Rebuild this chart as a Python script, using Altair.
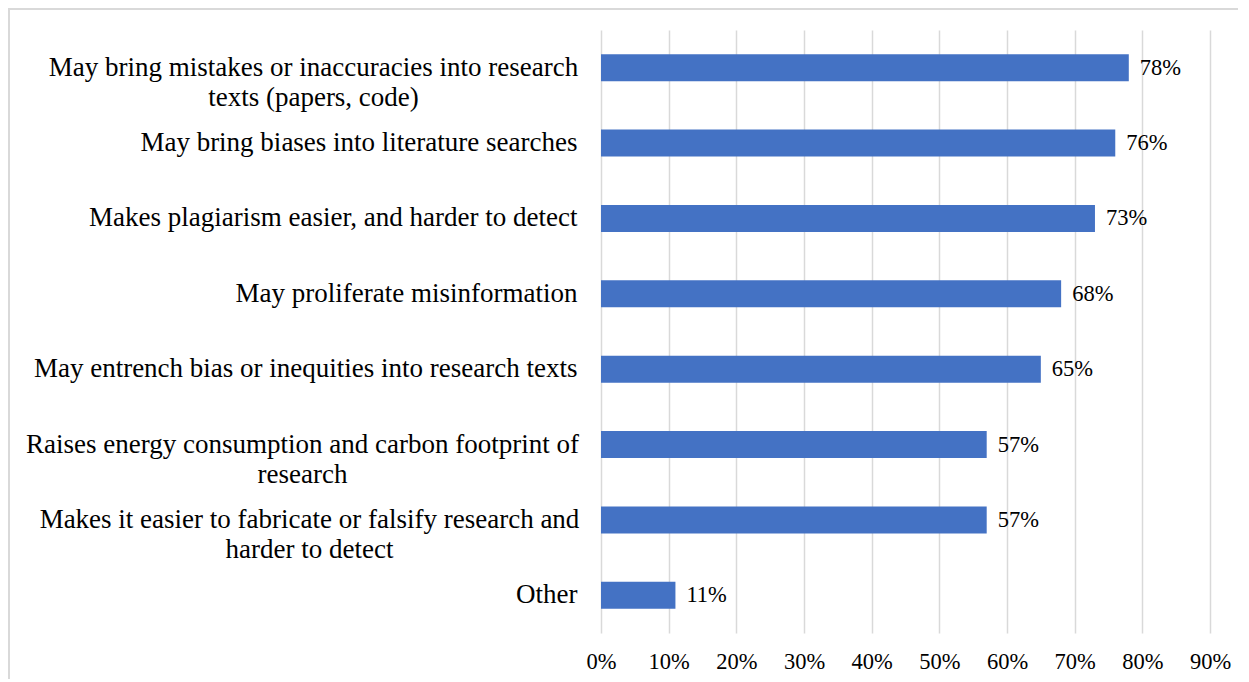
import altair as alt
import pandas as pd

categories = [
    "May bring mistakes or inaccuracies into research\ntexts (papers, code)",
    "May bring biases into literature searches",
    "Makes plagiarism easier, and harder to detect",
    "May proliferate misinformation",
    "May entrench bias or inequities into research texts",
    "Raises energy consumption and carbon footprint of\nresearch",
    "Makes it easier to fabricate or falsify research and\nharder to detect",
    "Other",
]
values = [78, 76, 73, 68, 65, 57, 57, 11]
tick_values = [0, 10, 20, 30, 40, 50, 60, 70, 80, 90]

df = pd.DataFrame({"cat": categories, "val": values})

FONT = "Liberation Serif"
W, H = 609, 603
PAD_L, PAD_T = 593, 22

pad_conditions = [
    {"test": "indexof(datum.value, 'May bring mistakes') === 0", "value": 288},
    {"test": "indexof(datum.value, 'Raises energy') === 0", "value": 299},
    {"test": "indexof(datum.value, 'Makes it easier') === 0", "value": 292},
]

y_enc = alt.Y(
    "cat:N",
    sort=categories,
    title=None,
    scale=alt.Scale(paddingInner=0, paddingOuter=0),
    axis=alt.Axis(
        domain=False,
        ticks=False,
        grid=False,
        labelFont=FONT,
        labelFontSize=27,
        labelColor="#000000",
        labelLimit=700,
        labelLineHeight=30,
        labelExpr="split(datum.label, '\\n')",
        labelAlign={
            "condition": {"test": "indexof(datum.value, '\\n') >= 0", "value": "center"},
            "value": "right",
        },
        labelPadding={"condition": pad_conditions, "value": 24},
        labelBaseline="middle",
    ),
)

x_enc = alt.X(
    "val:Q",
    title=None,
    scale=alt.Scale(domain=[0, 90], nice=False),
    axis=alt.Axis(
        values=tick_values,
        labelExpr="datum.value + '%'",
        domain=False,
        ticks=False,
        grid=True,
        gridColor="#d9d9d9",
        gridWidth=1.5,
        labelFont=FONT,
        labelFontSize=22.5,
        labelColor="#000000",
        labelPadding=17,
        labelFlush=False,
    ),
)

bars = alt.Chart(df).mark_bar(color="#4472C4", size=27).encode(x=x_enc, y=y_enc)

texts = alt.Chart(df).mark_text(
    align="left", baseline="middle", dx=11, font=FONT, fontSize=22.5, color="#000000"
).encode(
    x="val:Q",
    y=alt.Y("cat:N", sort=categories),
    text=alt.Text("label:N"),
).transform_calculate(label="datum.val + '%'")

border_top = alt.Chart(df).mark_rule(color="#d9d9d9", strokeWidth=2).encode(
    x=alt.value(-PAD_L), x2=alt.value(700), y=alt.value(-PAD_T + 1)
)
border_left = alt.Chart(df).mark_rule(color="#d9d9d9", strokeWidth=2).encode(
    x=alt.value(-PAD_L + 1), y=alt.value(-PAD_T), y2=alt.value(700)
)

chart = (
    alt.layer(bars, texts, border_top, border_left)
    .properties(
        width=W,
        height=H,
        autosize=alt.AutoSizeParams(type="none"),
        padding={"left": PAD_L, "top": PAD_T, "right": 28, "bottom": 46},
        background="#ffffff",
    )
    .configure_view(stroke=None)
)

chart.save("out.html", embed_options={"renderer": "svg", "actions": False})
